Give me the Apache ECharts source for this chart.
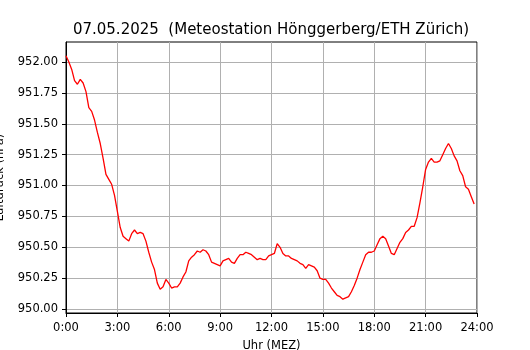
<!DOCTYPE html>
<html>
<head>
<meta charset="utf-8">
<script src="https://cdn.jsdelivr.net/npm/echarts@6/dist/echarts.min.js"></script>
<style>
  html, body { margin: 0; padding: 0; background: #fff; }
  #chart { width: 530px; height: 350px; }
</style>
</head>
<body>
<div id="chart"></div>
<script>
// Luftdruck alle 10 Minuten, 0:00 - 23:50 (hPa)
var pressure = [
  952.05, 952.00, 951.94, 951.85, 951.82, 951.86, 951.83, 951.76, 951.63, 951.60,
  951.53, 951.43, 951.34, 951.22, 951.09, 951.05, 951.01, 950.92, 950.79, 950.66,
  950.59, 950.57, 950.55, 950.61, 950.64, 950.61, 950.62, 950.61, 950.55, 950.46,
  950.38, 950.32, 950.21, 950.16, 950.18, 950.24, 950.21, 950.17, 950.18, 950.18,
  950.21, 950.26, 950.30, 950.39, 950.42, 950.44, 950.47, 950.46, 950.48, 950.47,
  950.44, 950.38, 950.37, 950.36, 950.35, 950.39, 950.40, 950.41, 950.38, 950.37,
  950.41, 950.44, 950.44, 950.46, 950.45, 950.44, 950.42, 950.40, 950.41, 950.40,
  950.40, 950.43, 950.44, 950.45, 950.53, 950.50, 950.45, 950.43, 950.43, 950.41,
  950.40, 950.39, 950.37, 950.36, 950.33, 950.36, 950.35, 950.34, 950.31, 950.25,
  950.24, 950.24, 950.21, 950.17, 950.14, 950.11, 950.10, 950.08, 950.09, 950.10,
  950.14, 950.19, 950.25, 950.32, 950.38, 950.44, 950.46, 950.46, 950.47, 950.52,
  950.57, 950.59, 950.57, 950.51, 950.45, 950.44, 950.49, 950.54, 950.57, 950.62,
  950.64, 950.67, 950.67, 950.74, 950.86, 950.99, 951.13, 951.19, 951.22, 951.19,
  951.19, 951.20, 951.25, 951.30, 951.34, 951.30, 951.24, 951.20, 951.12, 951.08,
  950.99, 950.97, 950.91, 950.85
];
var stepMin = 10;               // Messintervall in Minuten
var xTicks = [0, 180, 360, 540, 720, 900, 1080, 1260, 1440];
var yTicks = [950.00, 950.25, 950.50, 950.75, 951.00, 951.25, 951.50, 951.75, 952.00];
var yMin = 949.968, yMax = 952.162;   // Achsenbereich des Plots

var points = pressure.map(function (v, i) { return [i * stepMin, v]; });

var font = "DejaVu Sans";
var chart = echarts.init(document.getElementById("chart"), null, { renderer: "canvas" });

var option = {
  animation: false,
  title: {
    text: "07.05.2025  (Meteostation Hönggerberg/ETH Zürich)",
    left: 266, top: 18, textAlign: "center",
    textStyle: { fontFamily: font, fontSize: 15, fontWeight: "normal", color: "#000" }
  },
  grid: [
    { left: 66, top: 42, width: 411, height: 271, outerBoundsMode: "none", containLabel: false,
      show: true, borderColor: "#000", borderWidth: 1, backgroundColor: "transparent" },
    { left: 66, top: 62, width: 411, height: 247, outerBoundsMode: "none", containLabel: false, show: false }
  ],
  xAxis: [
    {
      gridIndex: 0, type: "value", min: xTicks[0], max: xTicks[xTicks.length - 1], interval: 180,
      name: "Uhr (MEZ)", nameLocation: "middle", nameGap: 27,
      nameTextStyle: { fontFamily: font, fontSize: 11.5, color: "#000" },
      axisLine: { show: true, lineStyle: { color: "#000", width: 1 } },
      axisTick: { show: true, length: 4, lineStyle: { color: "#000" } },
      axisLabel: {
        margin: 9, fontFamily: font, fontSize: 11.5, color: "#000",
        formatter: function (v) { return (v / 60) + ":00"; }
      },
      splitLine: { show: true, lineStyle: { color: "#b0b0b0", width: 1 } }
    },
    { gridIndex: 1, type: "value", min: 0, max: 1440, show: false }
  ],
  yAxis: [
    {
      gridIndex: 0, type: "value", min: yMin, max: yMax,
      name: "Luftdruck (hPa)", nameLocation: "middle", nameGap: 60,
      nameTextStyle: { fontFamily: font, fontSize: 11.5, color: "#000" },
      axisLine: { show: true, lineStyle: { color: "#000", width: 1 } },
      axisTick: { show: false }, axisLabel: { show: false }, splitLine: { show: false }
    },
    {
      gridIndex: 1, type: "value", min: yTicks[0], max: yTicks[yTicks.length - 1], interval: 0.25,
      axisLine: { show: false },
      axisTick: { show: true, length: 4, lineStyle: { color: "#000" } },
      axisLabel: {
        margin: 8, fontFamily: font, fontSize: 11.5, color: "#000",
        formatter: function (v) { return v.toFixed(2); }
      },
      splitLine: { show: true, lineStyle: { color: "#b0b0b0", width: 1 } }
    }
  ],
  series: [
    {
      type: "line", xAxisIndex: 0, yAxisIndex: 0, data: points,
      showSymbol: false, smooth: false,
      lineStyle: { color: "#ff0000", width: 1.3 }, z: 5
    }
  ]
};
chart.setOption(option);
</script>
</body>
</html>
